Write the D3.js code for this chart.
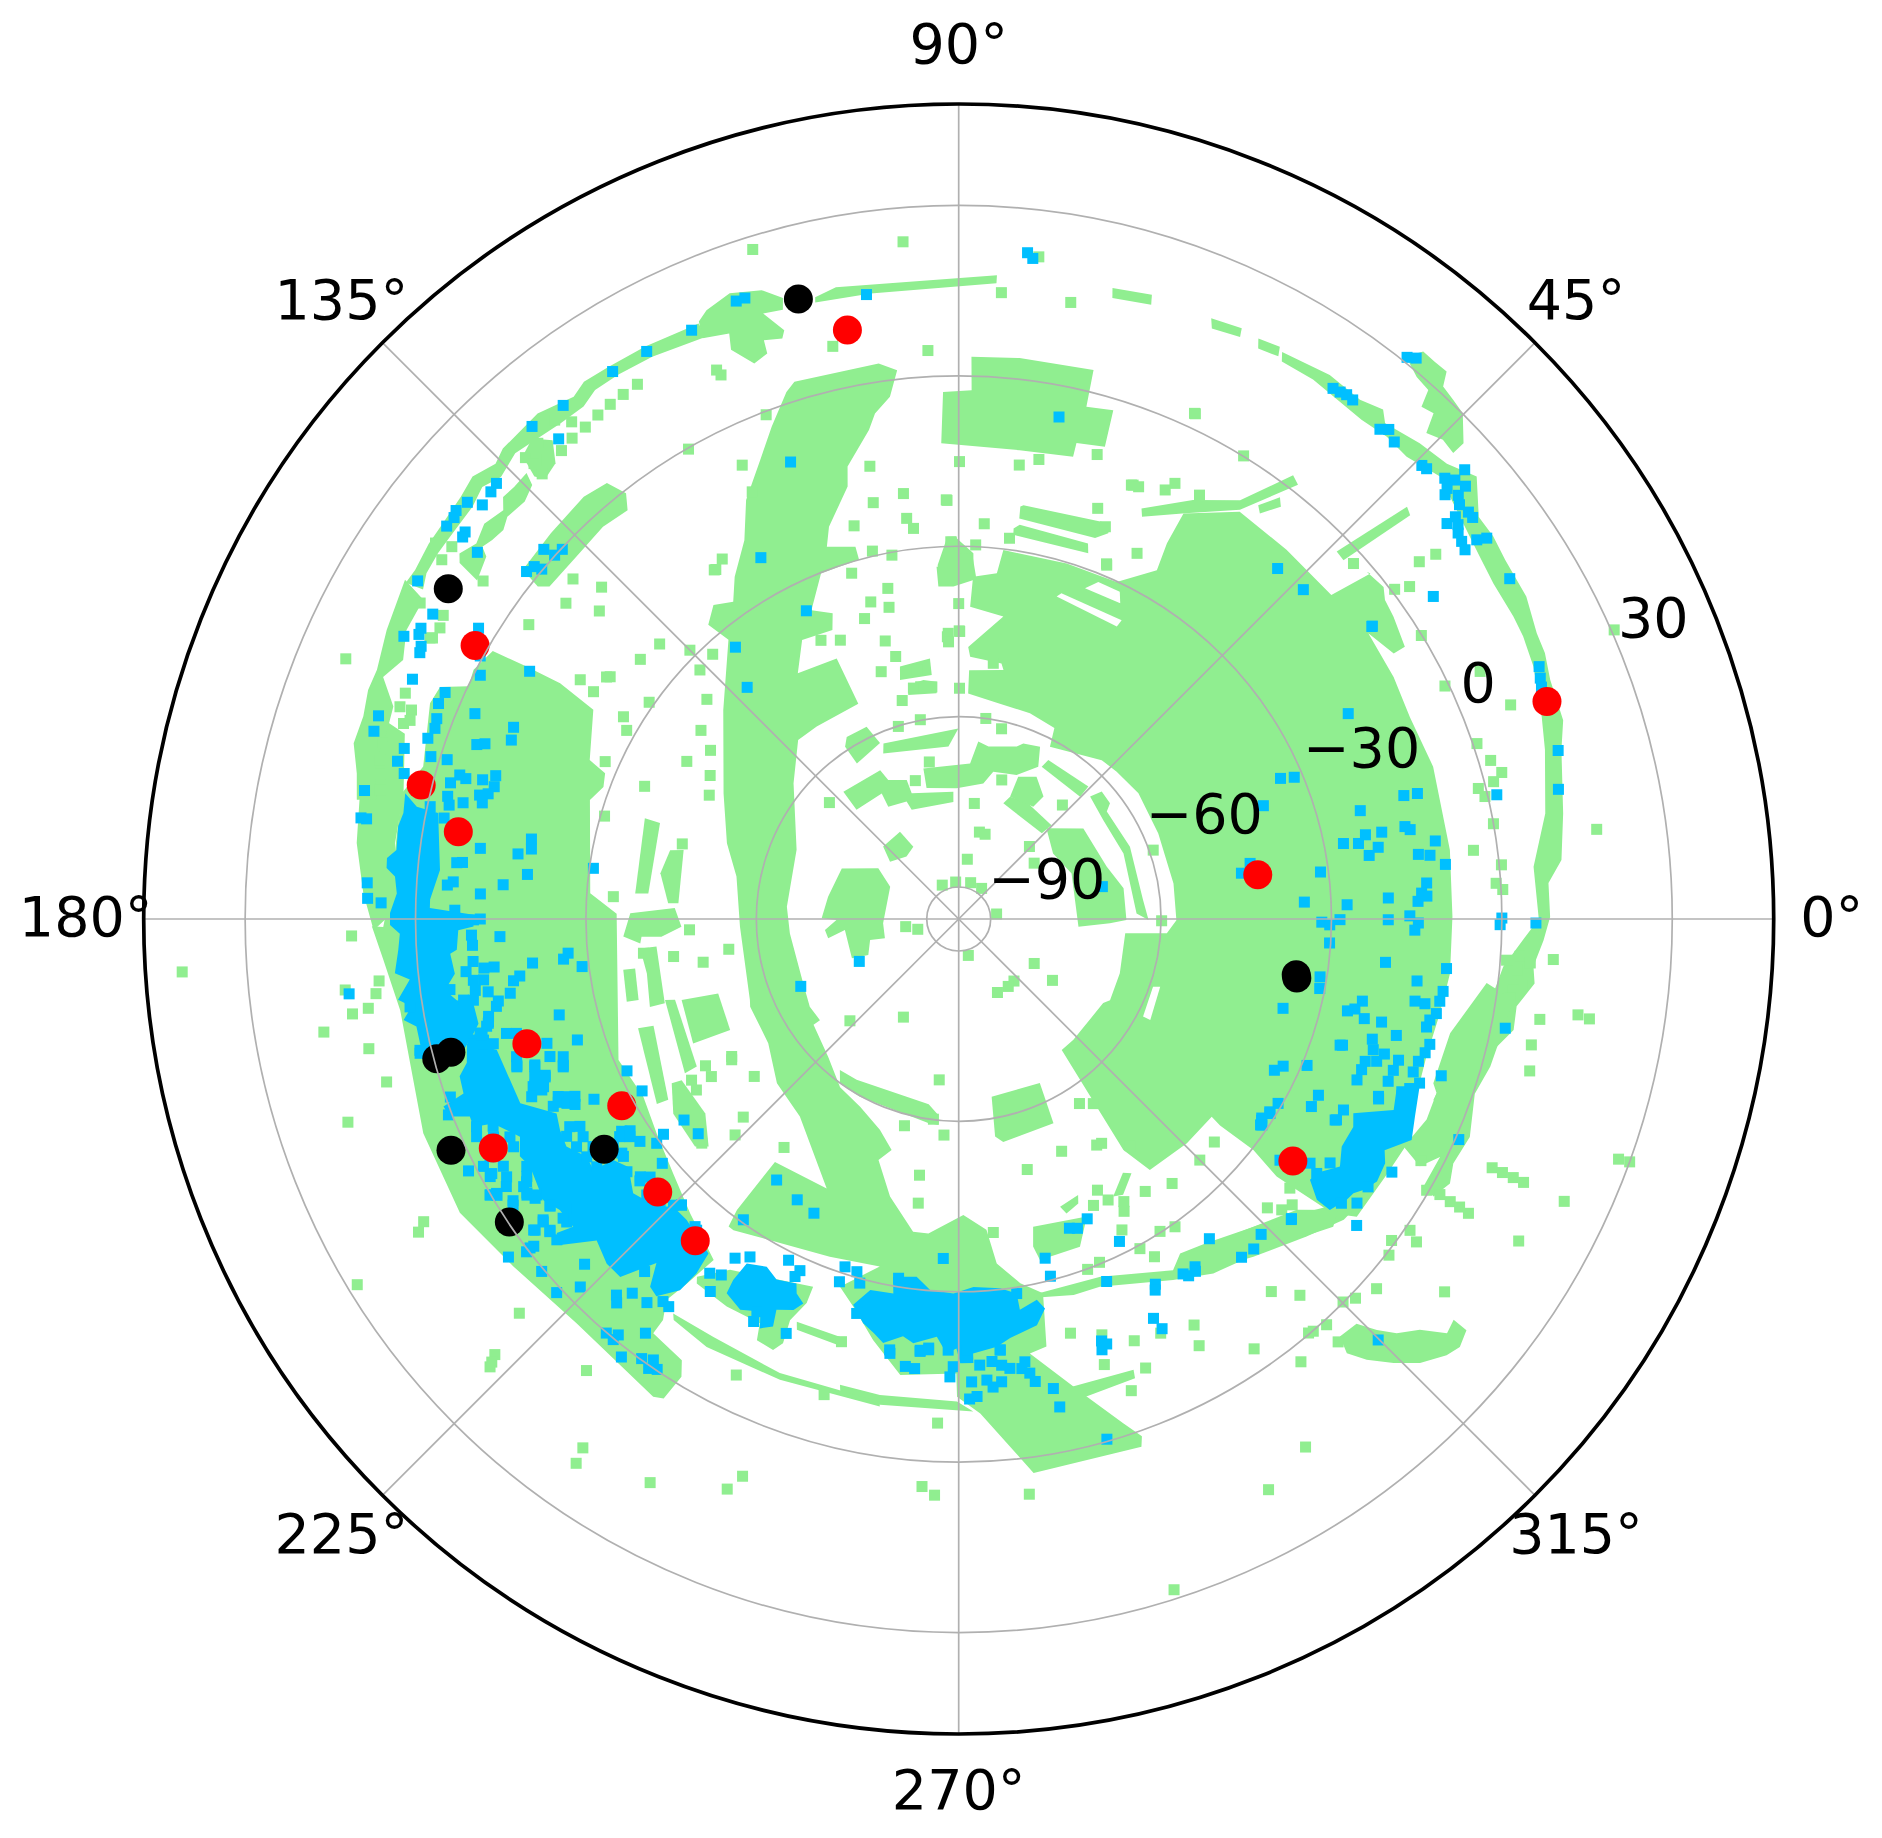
<!DOCTYPE html>
<meta charset="utf-8">
<style>
	body { margin: 0; background: #fff; }
	text { font-family: "DejaVu Sans", sans-serif; font-size: 55.5px; fill: #000; }
	.grid { fill: none; stroke: #b0b0b0; stroke-width: 1.7px; }
	.frame { fill: none; stroke: #000; stroke-width: 3.7px; }
</style>
<head>
	<script src="https://d3js.org/d3.v7.min.js"></script>
</head>
<body>
	<svg width="1882" height="1838"></svg>
</body>
<script>
// all values are [right ascension in degrees, declination in degrees]
var thetaTicks = [0, 45, 90, 135, 180, 225, 270, 315];
var decTicks = [-90, -60, -30, 0, 30];

// survey coverage, too dense to list point by point
var coverage = [
[[152.8,0.4],[150.1,-1],[149.7,-7.5],[149.4,-14.1],[150.2,-21.5],[156.7,-24.9],[157.6,-28.3],[159.6,-28.9],[162.1,-27.4],[176,-30.6],[179.1,-35.4],[202.5,-30.8],[209.4,-31.9],[215.4,-30.4],[221.7,-28.3],[227.6,-25.5],[234.3,-21.7],[233.3,-15.6],[232.5,-11.1],[233.6,-7.9],[233.6,-5],[237.9,-3.9],[238.8,-1.4],[238.4,3.5],[237.4,4.2],[226.6,2.3],[218,3.8],[210.5,6.3],[201.8,5.9],[189.3,4],[184.1,5.9],[180.7,7.7],[180.8,5.7],[177.4,4.6],[167.3,4.9],[164.1,2.4],[157.8,4.9],[155.9,4.4],[154.6,-0.1]],
[[160.8,12],[168.1,12.1],[172.8,11.2],[177.5,9.3],[181.1,7.4],[179.1,3.6],[172.4,4.5],[167.2,4.6],[161.5,7.2]],
[[162.2,-37.6],[162.2,-40.4],[175.3,-40.8],[175.5,-38.5]],
[[166.6,-43.4],[165.9,-45.7],[176.8,-46.2],[176.9,-44.4],[171.3,-42.5]],
[[179,-37.8],[177.8,-45.6],[181.6,-46.8],[183.4,-43.2],[183.2,-39.7],[184.4,-39.4],[183,-36.5]],
[[185.3,-39.3],[185.2,-42.2],[196,-41.8],[195.9,-39.1],[189.9,-39.9]],
[[188.6,-35.9],[188.7,-38],[194.2,-37.5],[194,-35.4]],
[[196.3,-44.8],[197.2,-51.3],[205.9,-50.9],[205.1,-44]],
[[195.4,-42],[195.9,-43.7],[209.4,-42.7],[209.4,-40.3]],
[[198.8,-36],[199.3,-38.7],[211.9,-35.4],[211.5,-33.3]],
[[209.8,-37.4],[210.2,-39.2],[217.5,-39.4],[222.3,-36.1],[220.8,-34.3],[214.3,-34.8]],
[[107,3.3],[98.2,3.2],[96.4,1.6],[97.5,-2.9],[99.4,-5.4],[100.4,-8.1],[103.8,-13.6],[104.4,-17],[108.3,-22.9],[109.5,-26.1],[105.5,-27.6],[105.5,-30],[111.7,-30.1],[115.5,-35.4],[112.4,-37.4],[113.6,-40.1],[119.3,-39.3],[123.2,-43.9],[115.1,-45],[115,-53.8],[126.4,-53.5],[131.9,-53.3],[140.6,-58],[156.9,-64.6],[175.9,-65.3],[184.9,-65.8],[202.5,-66],[210.5,-65.2],[216.1,-65.4],[216.1,-64],[226.6,-62.2],[234.8,-59.4],[242.3,-58.3],[249.5,-56],[253.8,-53.3],[251.6,-50.9],[256.1,-45.3],[261.7,-40],[264.5,-40],[270.9,-43.5],[275.1,-40.7],[276.3,-34.6],[279.6,-30.6],[282.7,-28.1],[281.6,-18.8],[279.3,-18.1],[285,-8.6],[288.1,-2.2],[289.5,1],[289.1,2.7],[277.7,2.8],[272.5,-8.5],[269.8,-11.5],[269.7,-15.6],[262.7,-14.7],[258.5,-20],[254.8,-24.9],[252.1,-27.6],[257.2,-32.9],[249.1,-32],[234.1,-28],[233.2,-28],[232.7,-31.2],[232.9,-42],[243.9,-42.8],[231.2,-51],[222.1,-52.5],[213.1,-55.6],[202.8,-55.8],[201.2,-56.2],[182,-57.1],[169.2,-55.8],[161.9,-52.7],[151.9,-48.7],[138.4,-40.2],[129.5,-31.9],[130.4,-27.6],[128,-25.5],[125.4,-27.1],[123.2,-23.6],[119.5,-19],[116.9,-12.9],[113.4,-7.6],[110.8,-2.9],[108.1,2]],
[[83.1,-30.2],[73.1,-30.2],[64.9,-30.1],[60.4,-25],[61,-20],[61,-14],[55.4,-8.5],[48.4,-8.7],[41,-8.7],[40,-1],[40.4,-1.3],[38,-0.7],[36.8,-1.9],[34.8,-2.4],[31.4,-3.6],[31.4,-5.9],[34.9,-7.7],[29.1,-8],[24.1,-8.6],[17.8,-7.9],[8,-8.3],[0.3,-8.7],[353.7,-8.6],[350.5,-9.1],[347.2,-9.9],[354.1,-8.7],[348.9,-9.3],[343.6,-9.8],[337.6,-9],[333.9,-7.2],[328.9,-7.9],[323.2,-8.1],[321.8,-11.8],[321.3,-19.4],[321,-23.6],[321.9,-29.7],[321.7,-37],[322,-39.1],[315.5,-39.3],[307.3,-40.1],[305.5,-45.7],[308.2,-66.3],[313.5,-66.3],[329.8,-66.2],[331.8,-65.4],[341.4,-65.7],[355.1,-66.2],[356.1,-58.9],[359.7,-57.3],[9.4,-57.3],[23.2,-57.4],[35,-57],[43,-57.6],[48,-58],[62.1,-61.3],[63.4,-58],[70.9,-57.3],[79.6,-57],[87.6,-55.9],[87.6,-51.8],[79.8,-51.1],[80.5,-50],[87.5,-49.4],[88,-47.7],[81.6,-41.8],[87.9,-40.6],[87.6,-35.3],[83.7,-34.4]],
[[46,-73.4],[36,-68.5],[19.5,-68],[10.6,-66.1],[359.7,-66.1],[358.4,-69],[356.3,-74.5],[22,-74.2],[34.8,-75.4]],
[[43,-64],[41.7,-61.9],[37.4,-62.1],[36,-63.4],[22.9,-62.9],[5.9,-63],[359.7,-62.2],[1.8,-64.3],[21.7,-64.4],[34.4,-64.8]],
[[61.4,-65.1],[60.6,-63.5],[45.6,-63],[45.2,-65.3]],
[[68.9,-73.8],[67.2,-72.3],[59.9,-71.8],[45.3,-72.4],[45.9,-74.6]],
[[67.2,-72.3],[67.3,-68.5],[61.3,-67.1],[55.3,-69.4],[56.4,-71.9]],
[[121.6,-58],[115.6,-58.1],[114.1,-61.7],[123.2,-62.9],[123.4,-59.3]],
[[113.2,-62],[90.1,-62.1],[93.4,-65.2],[114.5,-63.6]],
[[103.2,-68.4],[85.8,-68.2],[83.7,-64.2],[80.2,-64.8],[71.4,-63.6],[69.8,-62.7],[64.7,-62.1],[62.4,-65.4],[68.1,-68.3],[76.8,-69],[79.7,-71.4],[90.9,-72.6],[103.8,-71.9]],
[[132.2,-65.4],[117.8,-66],[116.9,-68.2],[110.5,-69.5],[110.5,-72],[92.4,-73.2],[92.6,-75],[113.3,-74.7],[113.9,-73],[122.1,-72.3],[121.5,-69.7],[133.1,-69.3]],
[[136.2,-77.2],[123.9,-77.1],[122.1,-80.6],[129.9,-81.3],[140.2,-79.9]],
[[156.6,-73.2],[147.8,-78.9],[154.8,-82.3],[183.3,-82.3],[194.7,-82.2],[193.3,-79.6],[201.7,-78.5],[200.2,-75.6],[185.5,-75.5],[188.4,-72.4],[184.7,-72],[180.5,-74.1],[179.7,-71.5],[170.3,-72.3]],
[[88.7,3.4],[83.8,3.7],[76.2,3.9],[76,-2.7],[73.1,-2],[72.8,-8.6],[76.1,-9.3],[76.1,-11.8],[82.6,-12.4],[92.1,-11.8],[91.7,-2.8],[88.6,-2.5]],
[[81.5,-22.2],[81.1,-21.9],[69.1,-21.1],[68.8,-22.8],[70.3,-24.4],[81.4,-24.3]],
[[82,-26.2],[81.2,-25.4],[71,-25.7],[70.5,-27.3],[81.9,-27.3]],
[[66,-16.5],[60.8,-11.1],[56.1,-6.8],[53,2.2],[52,1.4],[55.5,-8.2],[60.8,-13.8],[65.5,-17.8]],
[[54.1,-5.7],[52.7,-2.3],[52,-3.5],[53.4,-6.7]],
[[93.6,-33.5],[91.4,-33.6],[90.3,-28.6],[87.7,-31.2],[87.5,-35.9],[90.9,-37.1],[93.5,-37]],
[[103.1,-50],[96.3,-49.5],[96.3,-52.4],[103.8,-52.3]],
[[102.1,-53.5],[98.4,-53.1],[95.3,-53.7],[95.6,-55.7],[102.7,-55.2]],
[[44.2,-2.8],[42.6,11.6],[41.8,11],[43,-3]],
[[103,16.7],[101,17.7],[86.6,17.9],[86.6,16.5],[98,15.6],[103.1,15.8]],
[[112.5,20.4],[110.1,21.7],[107.4,20.4],[105.8,18],[106.1,16],[107.9,16.4],[106.5,12.5],[106.9,11.2],[108.6,11.9],[108.7,9.5],[110.2,8.6],[111.8,12.3],[111.4,15.1],[113.8,16.1],[113.5,19.1]],
[[113.6,18.8],[114.3,18.8],[118.7,19.3],[122.4,19.5],[124.9,19.7],[126.4,18.6],[129.8,20.2],[132.6,19.8],[134.1,19.7],[135.5,18.7],[137.7,20.1],[139.7,19.3],[142.9,18.8],[144.7,18.7],[147.3,18.1],[148.7,18.3],[148.4,15.1],[147,16.1],[144.9,16.4],[143.1,16.4],[139.7,16.6],[137.8,17.6],[136,16.4],[133.6,17.6],[132,17.1],[128.8,16.3],[126.2,16.2],[124.5,17.4],[122,17.4],[118.6,17.1],[113.4,16.1]],
[[131.6,17.5],[130.3,14.9],[131.5,11.5],[133.2,10.7],[133.8,12.3],[133.3,16.3]],
[[134.1,13.7],[134.5,11.5],[136.1,10.4],[138.3,10.8],[139.5,9.8],[140.9,10.2],[142,10.8],[142.5,9.2],[144.9,8],[144.5,12.3],[143.8,13.3],[142.1,12],[140.2,13.1],[138.1,12.1],[137.2,13.7],[135.8,13.5]],
[[148.5,18.7],[153.2,17.2],[156.8,15.8],[158.8,15.9],[161.2,15.1],[163.8,15.3],[166.4,13.4],[168.8,12.4],[168.4,9],[165.1,10.7],[162,10.3],[159.4,10.7],[157.2,14.3],[155,12.3],[152.4,14.1],[149.2,14.1]],
[[141.3,2.7],[136.6,3.2],[131.6,3.8],[128.9,3],[128,-0.5],[129,-3],[132.2,-2.4],[136.6,-2.9],[140.9,-2.8],[141.7,-1.2]],
[[76.3,18.7],[72.8,19.4],[72.6,17.7],[76.1,17]],
[[67.2,19.1],[64.4,19.7],[64.2,18.2],[66.8,17.5]],
[[62.7,19.4],[60.7,19.9],[60.4,18.3],[62.3,17.8]],
[[60.3,19.3],[55.7,20.3],[52.3,19.9],[50.2,21.1],[49.3,19.5],[45.9,21],[43,21.9],[40.5,24.3],[37.7,20.1],[35.6,20.1],[33.3,19.5],[29.6,19.3],[26.3,17.9],[24.4,17.7],[22,16.7],[18.2,16.4],[15.7,14.6],[9.9,12.4],[5.6,11],[3.5,8.4],[0.2,8.5],[357.9,7.4],[355.3,5.9],[353.6,6.4],[351.1,3.8],[348.7,4],[346.2,1.3],[342.6,0.4],[340.1,-1.8],[339.1,-6.2],[344.1,-5.1],[348.6,-2.6],[352.1,-0.6],[355,0.6],[357.9,3.8],[0,6.5],[5.2,6],[10.2,9.3],[16.1,11.8],[19.1,13],[23.7,14.9],[26.6,15.5],[28.6,15.6],[30.7,15.5],[32.1,15.5],[34.8,16.1],[38.7,17.5],[42.6,19.5],[45.9,17.7],[48.4,17.9],[51.1,17.3],[56.7,18],[59.9,17.8]],
[[351.7,3.1],[344.5,1.5],[341.3,0.3],[336.9,2.2],[333.7,1.5],[331.7,2.6],[329.7,1.2],[330.1,-1.2],[333.7,-1.1],[331.8,-3.5],[332.9,-7.6],[336.8,-6],[340,-6.1],[340.9,-7.2],[346.9,-6.8],[353.1,-2]],
[[309.1,-22.8],[319.3,-17.1],[323.6,-9.3],[322,-9.6],[317.6,-12.7],[311.1,-16.7],[306.9,-19.1]],
[[280.2,-28.1],[291.6,-27.9],[301.4,-23.2],[303.5,-25],[307.4,-23.8],[315,-19.8],[323.3,-11.9],[320.6,-10.3],[313.8,-15.7],[305.7,-18.8],[300.7,-21.7],[291,-26.3],[287,-26.4],[280.2,-27.8]],
[[283.6,-39.9],[293.3,-38.6],[290.3,-34.1],[283.4,-33.9],[282.8,-36.5]],
[[289.4,-41.9],[293.4,-42.7],[292.8,-41.3],[290.1,-40.4]],
[[299.1,-39.7],[302.9,-42.4],[304.2,-41.5],[300.8,-39.1]],
[[255.7,-11],[260.6,-10.7],[269.8,-10.7],[271.7,-8.9],[260.8,-9],[256,-9.5]],
[[234.1,-9.9],[239.6,-10.3],[248.5,-9.7],[260.7,-9.5],[260.8,-8.7],[248.8,-8.6],[239.5,-8.2],[234.6,-9]],
[[248.1,-19.2],[254.6,-19.1],[254.9,-17.6],[248.5,-17.9]],
[[283.6,-10.9],[291.2,-10.5],[291,-9],[284.8,-8.6]],
[[233.8,-17.6],[236.9,-21.9],[248.4,-26],[248.4,-22.9],[247.2,-19],[247.5,-14.8],[246.7,-13],[244.4,-13.4],[243.8,-16.3],[239.1,-16.1],[234.3,-16.6]],
[[231.8,-61.8],[237.6,-62.1],[260.8,-62.6],[264.1,-60.9],[264.4,-59.2],[261.5,-59.3],[240.9,-59.8],[234.2,-59.9]],
[[280.5,-63.8],[296.3,-63.4],[294.9,-56],[281.3,-55.6],[279.5,-56.8]],
[[312.4,3.9],[314.5,4.3],[315.5,7.6],[316.6,10.5],[318.3,13.1],[319.7,17.1],[321,16.5],[321,19.4],[319.5,20.4],[318.2,19.6],[316.1,17.1],[314.4,13.8],[312.8,10.1],[311.8,6.9]],
[[51.5,30.9],[50.7,33.5],[49.5,33.4],[48.3,33.5],[47.7,31.1],[46.4,30.6],[45.1,30.1],[43.3,26.5],[43.3,24],[44.7,24.3],[46.1,23.1],[46.8,26.5],[47.9,25.9],[48.4,28.9],[49.8,29.3]],
[[93.4,-33.2],[91.7,-28.3],[90.3,-28.3],[90,-31.3],[87.9,-31.2],[87.1,-35.3],[91.3,-36.8],[93.3,-36.7]]
];

// gaps inside the coverage
var coverageGaps = [
[[73.1,-36.3],[72.5,-35.5],[61.4,-35.7],[61.6,-37.1]],
[[69.1,-33.3],[67.5,-31.4],[63.8,-31.4],[62.9,-33.2]],
[[332.1,-58.9],[340.8,-59.4],[341.4,-58.2],[332.2,-57.5]]
];

var field = [[144.6,7.1],[138.6,-5.1],[137.1,-9.8],[141.2,-6.9],[139.4,-12.3],[145.6,-3.9],[137.4,-24.1],[140.8,-23.3],[132.9,-32],[136.1,-32.4],[145.5,-20.4],[148.1,-19.9],[138.9,-36.8],[145,-29.1],[143.8,-39.4],[145.8,-42.8],[149.9,-40.3],[156,-27.5],[150,-45.1],[153.6,-46.6],[138,-65],[148.9,-26.7],[150.4,-28.4],[135,-28.7],[125,-20.6],[157.1,-35.6],[163.8,-30.7],[176.3,-34.7],[164.8,-45.2],[182.3,-48.2],[187.5,-54.8],[187.5,-45],[189.6,-50],[186.2,-39.8],[211.2,-48.9],[157,21.6],[181.6,11.3],[186.1,7],[187.3,7.8],[188.6,9.5],[188.9,12.4],[192.4,10.7],[186.6,13.1],[147.7,-16.8],[145.2,-20.9],[151.9,9.4],[152,9.8],[150.7,9.1],[149.5,9.7],[149.6,14.3],[159.2,9.6],[159.1,7.5],[157.8,9.6],[160.6,8],[163,10.3],[160.1,7.1],[164.6,10],[165.9,9.4],[162.1,9],[167.4,8.8],[195.9,9.1],[209.5,12.6],[210.1,14.3],[221.9,8.3],[223.2,16.4],[223.7,18.5],[230.5,7.4],[244,-6.3],[254.2,-8.6],[234.6,18.6],[234.9,21.5],[241.3,17.5],[247.9,12.7],[248.8,9.6],[223.1,-69.4],[211.8,-48.6],[217.6,-50.2],[210.1,-44.1],[212.5,-44],[211.1,-40.7],[213.1,-40.5],[222.6,-44.1],[224,-40.9],[232.6,-45],[221.1,-35.6],[211.3,28.3],[240.6,-75.8],[263.1,-67.1],[255.3,-58],[262.8,-60.1],[266.1,-57.5],[261.3,-50],[261.9,-45.1],[285.3,-49.9],[293.9,-50.9],[303.2,-56.8],[306.1,-55.4],[318.9,-35.9],[315,-35.6],[308.9,-35.8],[304.4,-37.5],[276.3,-40.1],[301.4,-49],[302.5,-48.8],[307.1,-45.6],[298.8,-29.4],[302.8,-30.2],[305.1,-29.4],[300.1,-26.9],[290.2,-29.9],[292.3,-30.3],[310,-10],[312.2,-6.2],[300.1,-13],[299.4,-9.4],[304.5,-3.8],[307.7,2.9],[312.2,0.8],[310.2,-0.2],[292.6,-15.2],[285.1,-20.1],[292.6,-10],[288.1,-13.1],[290.1,-7.2],[296,-14.5],[289,-18.2],[267.6,-6.8],[266.3,4.5],[267.6,5.9],[277,6.4],[298.5,18.7],[303.3,15.6],[311.9,4.4],[254.5,-18.4],[320.9,-20.5],[316.9,-21.2],[319.4,-18.3],[318,-19.1],[297.1,-42],[298,-39.6],[295.2,-39.9],[300.3,-38],[299.5,-36.5],[297.7,-33.8],[356.1,9.3],[350.2,8.2],[351.2,14.7],[351,16.8],[347.6,7.6],[345.1,8.4],[340,28],[340.1,30],[335,8],[335,10],[335,12.1],[335,14.1],[332.4,-3.8],[335,22],[330.1,18.1],[318.5,2.6],[316.3,1],[315.1,-0.1],[322.5,12.2],[310.7,0.1],[329.9,-0.4],[330.2,2],[330.1,4.2],[330.1,6.1],[330,8],[325.4,0.9],[324.8,3],[323.4,-0.7],[322,0.5],[21.2,8.6],[25.4,6],[25.6,-0.7],[18.7,0.7],[16.6,2.1],[15.1,3.4],[14.1,-1.3],[14.4,1.6],[13.1,-0.5],[10.1,0],[7.6,-4.2],[5.7,0.4],[3.8,-0.8],[3.1,0.3],[8,17.8],[65,2.6],[58.4,0.1],[68.1,-13.3],[64.3,-11.8],[63.6,-10],[64,-24],[69.5,-21.9],[67.3,-28.1],[42,-2.1],[37.8,7],[37.4,10.1],[36.4,3],[37.1,0.6],[31.5,-0.1],[107.1,27.7],[94.7,24],[113.8,10],[113.6,8.9],[102.4,7.6],[93.1,4.6],[110.9,-0.6],[119.9,-0.2],[115.5,-7.1],[101.1,-14.4],[115.8,-12.1],[97.4,-20.1],[101.6,-20.8],[91.7,-21.8],[104.9,-24],[97.4,-24.5],[96.6,-26.4],[86.3,-25.9],[91.2,-29.2],[87.4,-29.7],[103.2,-29.1],[100.4,-30.5],[107.2,-31.9],[102.1,-36.1],[105.5,-37.7],[102.6,-39.4],[107.4,-40.2],[90,-40.1],[116.3,-40.9],[113,-42.3],[104.8,-45],[92.3,-45.9],[89.8,-45],[103.5,-48.1],[107.4,-50],[99.6,-51.2],[99.3,-54.2],[96.6,-54.5],[89.8,-55],[123.3,-19.8],[124.8,-20.7],[125.6,13.5],[127.2,13.1],[128.8,13],[130.3,12.5],[121,14.2],[122.6,14],[124.1,13.8],[131.9,12.9],[133.2,15.8],[133,14],[133.1,11.7],[127.9,15.3],[129,17.4],[131.5,16.2],[145.2,15.2],[143.7,15.1],[144.3,17.8],[71.3,-19.3],[101.1,-54.2],[104.5,-55.9],[92.1,-45.3],[89.9,-44.9],[92.1,-46.8],[82.3,-50.2],[67.4,-27.9],[107.4,-70.1],[100.6,-67.5],[100.9,-59.9],[107.4,-60.1],[82.3,-60],[77.3,-61.3],[82.3,-75.1],[76.6,-79.9],[72.7,-80],[81.8,-85],[115.9,-89],[94.7,-89.1],[71.8,-88.9],[53.2,-88.9],[7.5,-88.9],[188.2,-86.2],[194.1,-88.2],[284.8,-89],[329.5,-80.2],[326.8,-75.9],[311.7,-81],[306.3,-80.9],[297.8,-81],[19.5,-59.3],[45.7,-77.8],[36.5,-79.1],[359.5,-59.9],[47.7,-68.5],[72.8,-70],[86.1,14.9],[79.7,14.7],[64.9,2.6],[89.9,-15.1],[82.4,-15],[80.1,-13.5],[73.4,-10.3],[91.6,-21.9],[82.4,-28],[68.3,-13.4],[67.4,-13.2],[60.4,-9.8],[83.1,21.8],[183.9,41.4],[190.1,17.9],[198.4,17.7],[223.5,17.7],[287.8,28.4],[23.8,30.5],[356.2,3.4],[355.6,5.3],[353.3,4.2],[352.7,2.8],[351.8,2.4],[354.8,3],[355.7,1.1]];

// the crowded parts of the blue sample
var crowded = [
[[167.2,4.3],[168.3,1.8],[168.5,-2.1],[174.6,-3.9],[177.9,-2.5],[178.8,-2.5],[179.5,-10.2],[180.9,-10.2],[181.3,-7.5],[183.5,-7.1],[183.9,-5.9],[186.2,-6.4],[187.9,-4.3],[189.2,-6.1],[189.9,-8.9],[192.3,-9.1],[193.9,-7],[195.7,-3.8],[194.8,1.8],[191.2,1.7],[190.3,3.7],[189.1,1.9],[188.2,4.1],[186.3,1.6],[185.5,4.1],[183.2,3.2],[181.5,2.8],[180.6,4.5],[179.4,4.5],[177.4,3.4],[175.7,3.9],[174.9,5.5],[173.9,5.6],[173,4.1],[170.6,4.4],[169.2,3.9]],
[[194.2,-6.3],[195.8,-11.1],[202.8,-11.9],[205.8,-17],[207.9,-16.2],[210.1,-15.8],[212.6,-17.9],[214.5,-17.6],[214.9,-21.5],[216.9,-22.9],[220.1,-20.7],[223.6,-22.2],[225.2,-24.3],[227.9,-24.2],[233.2,-22.1],[233.5,-18],[233.1,-13.9],[231.3,-10.5],[230,-11.1],[228.7,-15],[226.6,-8.9],[224.4,-8.9],[221.6,-10.4],[219.3,-5],[218,-5.8],[218.6,-8.8],[216.1,-8.7],[214.1,-7.3],[210,-8.5],[208.4,-7.8],[206.4,-9.4],[203.7,-6.1],[203.2,-2.7],[202,-2.8],[201.2,0.5],[200,0.9],[199.4,-3.2],[197.5,-3.5],[196.3,-5.4]],
[[238,-20.7],[238.4,-24.4],[241.1,-25.7],[243.2,-24.5],[246,-25.4],[246.6,-23.8],[248,-22.6],[247.1,-20.9],[245,-19.7],[245.5,-16.8],[244.1,-15.5],[243.2,-18.2],[240.8,-16.8],[238.2,-18.1]],
[[254.7,-25.2],[256.6,-28.5],[260.1,-28.7],[259.6,-31.6],[263.3,-32.2],[265.6,-30.1],[269.2,-29.7],[272.3,-30.8],[276.4,-30.2],[278.8,-28.9],[278.9,-26],[281.6,-27.2],[282.5,-25.4],[280.9,-22.8],[277,-21.3],[275.1,-20],[271.9,-19.1],[271.9,-17.4],[270.2,-17.4],[269.7,-20],[268.4,-19.1],[267,-22],[263.9,-20.5],[262.4,-21.5],[259.9,-19.8],[258.4,-21.2],[256.7,-22.5]],
[[338.7,-12.9],[340.4,-9.4],[336.6,-8.1],[334,-6.9],[331.5,-10.3],[330.2,-9.1],[327.9,-8.7],[326.2,-9.9],[325.2,-11],[324.1,-11.3],[321.9,-12.6],[321.9,-15.5],[323.4,-18.6],[325,-18],[327,-15.6],[329.3,-17.2],[332.2,-17.1],[333.8,-18.2],[336.3,-12]]
];

// blue points along the edges of the crowded parts
var crowdedEdge = [[168,-0.5],[179,-6.9],[180.1,-10.2],[187.2,-9.5],[187.3,-11.3],[187.9,-5.2],[189.3,-7.3],[189.5,-9],[194,-7.6],[194.3,-9.3],[193.7,2],[189.1,2.2],[190.7,-12.8],[191.7,-11.1],[192.8,-10.4],[193.4,-9],[194.2,-13.5],[194.5,-15.2],[194.4,-7.4],[194.7,-9.1],[195,-10.8],[196.8,-19.9],[194,2.1],[197.3,-14.1],[198.6,-19.7],[199.2,-21.9],[198.5,-13.6],[199.2,-16.6],[200.5,-21.3],[200.4,-16],[200.9,-17.7],[201.5,-15.1],[202,-16.8],[199.3,-0.8],[202.6,-14.2],[203.9,-18.5],[204.4,-19.9],[204.8,-21.2],[204.8,-17],[201,0.6],[203.3,-3.2],[204,-5.9],[208.1,-18],[208.7,-19.6],[204.3,-2.5],[205.1,-5.2],[205.9,-7.8],[209,-16.7],[210.1,-19.2],[212.7,-24.7],[213.5,-26.2],[207.1,-7.6],[210.8,-17.3],[211.9,-19.8],[213.4,-22.8],[206.9,-3.1],[212.6,-17.9],[215.3,-23.3],[207.5,-1.3],[208.5,-4.4],[209.8,-8],[214.4,-18.4],[208.8,-1.5],[209.7,-4],[210.8,-7.1],[219,-23.5],[210.6,-3.1],[211.6,-5.7],[210.5,0.1],[210.9,-0.9],[212.6,-5.4],[213.2,-6.9],[221.5,-22.3],[212.7,-2.4],[215,-7.8],[223.8,-22.8],[225.1,-24.5],[225.9,-25.5],[216.1,-5.1],[217.7,-8.4],[216.2,-2.9],[217.3,-5.2],[229.9,-24],[218.6,-5.1],[231.1,-23],[217.5,-0.5],[228.3,-12.5],[245.4,-26.4],[242.8,-17.9],[243,-16.1],[278.8,-28.9],[255.5,-23.9],[260.9,-18.8],[264.9,-19.4],[266,-19.6],[275.5,-19.4],[326.7,-17.4],[324.6,-18.3],[323.4,-11.7]];

var sample = [[98.4,15.5],[109.8,20],[109,20],[114.4,18.2],[118.8,18.4],[122.3,18.4],[127.6,18.5],[130.9,19.1],[129.8,14.4],[136.7,16.2],[137.6,15.9],[139.7,17.8],[139,15.5],[140.9,18.4],[141.5,17.9],[142.5,18],[141.9,14.8],[142.4,14.6],[142.7,10.9],[138.3,2.2],[137,-0.2],[138,0.1],[140.3,1.5],[141.2,2],[140,0.2],[148,16.7],[149.9,11.4],[151.6,12],[152.2,11.8],[153,14],[153.1,10.5],[153.7,10.2],[156.3,9.4],[156.2,3.2],[148.8,3.2],[151.2,0.5],[153,-1.1],[150,-8.4],[110.2,-9.9],[118.7,-23.1],[116.3,-35.1],[129.4,-33.7],[132.4,-40.4],[157,-3.1],[156.7,-10.3],[158.2,-10.8],[160.1,-5.4],[159.7,-6.7],[162.7,-1.3],[162.9,1.6],[165.3,5.3],[163.9,-4.2],[164.1,-5.4],[165,-3],[163.7,-8.3],[162.8,-10.3],[164.1,-10.6],[165.5,-8.5],[165.1,-9.9],[166.3,-9.3],[166.5,-3.1],[167.4,-3.7],[166.8,-6],[169.4,-19.1],[170.7,-19.4],[171.6,-17.2],[171.6,-10.5],[173.6,-6.7],[173.5,-7.7],[174.1,-19.3],[175.7,-15.2],[177,-11.3],[175.8,-6.4],[176.2,-5.4],[176.5,8.7],[178,8.5],[178.4,6.1],[180,-11.4],[172.1,-30.7],[182.2,-14.8],[181.9,-9.8],[183.1,-9.9],[185,-26.6],[185.8,-25.7],[187.2,-28.8],[185.9,-20.2],[203.1,-65.4],[185.9,-13.4],[185.9,-11.6],[185,-9.8],[186.1,-8.4],[187.4,-17.7],[187.9,-16.5],[189.4,-15.6],[187,12.5],[193.5,-23.3],[197.6,-25.2],[190.1,-13.3],[188.8,-11.8],[188.4,-9.6],[192.3,-10.9],[193.5,-9.3],[160.7,12.6],[162.2,12.5],[167.8,11.4],[170.4,11.1],[170.4,10.1],[168.9,-3.3],[157.5,3.5],[159,2.8],[160,2.5],[161.2,3.1],[164.3,7],[162.9,6.5],[204.6,-31.4],[208.5,-32.2],[206.3,-24],[204.6,-18.1],[205.2,-19.4],[205.8,-20.6],[216.1,-31.3],[216.6,-29.4],[216.2,-35.7],[219.5,-36.2],[219.5,-28],[214.9,-27.2],[212.2,-25.5],[212.8,-26.8],[214.8,-23.4],[217.3,-22.2],[219.4,-23],[219.9,-24.8],[225.9,-25.5],[229.4,-24.3],[235.1,-39.6],[240.1,-38.6],[243.8,-37.9],[234.4,-30.5],[236.6,-24.1],[238.3,-25.7],[243.5,-28.5],[245.7,-27.7],[236.3,-16.8],[236.3,-20.3],[234.9,-19.4],[247.4,-16.6],[232.9,-4.2],[229.6,0.1],[230.7,-1],[230.6,0.2],[232.4,1.7],[234.2,-0.2],[235.3,-1.2],[235.4,0.5],[236.2,-0.2],[227.7,-6.1],[228.3,-5.1],[228.9,-8.2],[230.9,-8.6],[232.3,-10.5],[233.2,-10.4],[224.2,-2.7],[222.9,1],[222.7,-6],[220.2,0.5],[216.9,3.5],[217.6,0.4],[217.6,-1.2],[216.3,-3.1],[217.4,-5],[215.9,-5.3],[208.6,-2],[207.2,1.4],[210.5,0.1],[210.7,-1],[212.3,-2.8],[211.3,-6.6],[212.4,-5.6],[213.4,-6.3],[213.7,-8.5],[215.1,-7.7],[217.1,-8.3],[217.1,-11.3],[200.7,-17.8],[199,-16.7],[201.4,-15.5],[202.3,-16.3],[200.3,-21.4],[198.3,-13.7],[192.5,-10.8],[193.7,-9.2],[251.8,-28.4],[254.8,-29.2],[251.9,-31.2],[253.9,-31],[292.2,-26.7],[284.4,-30.7],[284.3,-34],[267.4,-35.8],[296.5,-32.2],[293.2,-38.2],[289.7,-37.8],[291,-37.3],[308.1,-24.1],[313.8,-18.7],[318,-16.8],[311.8,-17.7],[309.9,-18],[304.2,-21.6],[303.9,-20.9],[302.3,-21.7],[302.8,-20.9],[298.3,-22.6],[297.9,-21.7],[296,-17.4],[296.4,-15.1],[288.7,-17.2],[289.2,-16.4],[288.4,-15.7],[344.6,-36.4],[334.4,-34],[335.6,-32.9],[337.2,-29.1],[333.9,-25.1],[332,-25.3],[330,-30.7],[328.2,-31.2],[326.7,-31.8],[325.8,-31.1],[332,-20.3],[341.7,-24.9],[323.1,-24.9],[325.2,-20.3],[260.5,-31.5],[261,-18.2],[264.9,-19.2],[266,-19.9],[268.6,-19.7],[271.1,-19.7],[275.5,-19.4],[274.3,-17.5],[272.7,-17],[275.5,-16.7],[276.5,-16],[278,-15.7],[278.5,-16.8],[263.2,-16.3],[264.4,-16.1],[269.3,-16.8],[268.9,-15],[278.9,-14.7],[279.4,-13.1],[271.6,-14.1],[273.5,-14.3],[275.3,-13.8],[274.2,-13],[281.4,-11.3],[272.2,-11.5],[271.3,-11.1],[281.7,-7.9],[285.9,-0.4],[35.3,-6.4],[23.6,-33.8],[22.9,-31.5],[20.4,-38.4],[15.5,-14.3],[15.3,-11.9],[15.1,-22.4],[11.7,-15.4],[11.2,-14.6],[11.6,-19.6],[11.7,-22.5],[11.1,-26.6],[10.7,-24],[9.7,-20.7],[8.8,-22.5],[9.3,-10.6],[8,-13.9],[7.7,-11.9],[6.4,-9.4],[7.4,-31.4],[4.4,-13],[3.2,-14],[2.8,-13.1],[2.2,-14.7],[2.8,-19.9],[2.8,-34.7],[2.1,-27.2],[359.5,-31.7],[359.1,-30.3],[359.9,-28.5],[359.9,-20],[0.4,-16.2],[359.5,-14.7],[358.6,-15.3],[0.1,0],[359.4,-0.3],[356.3,-30.2],[359.6,6],[354.2,-20.1],[354.2,-9.3],[350.9,-31.2],[349.1,-30.9],[352.3,-14.2],[351.5,-9.4],[349.8,-14],[349.7,-12.2],[350.3,-9.7],[348.8,-9.9],[347.9,-10.8],[347,-11.1],[348.5,-23.1],[346.7,-25.3],[347.2,-24.1],[346.2,-22.1],[346.3,-19],[345.1,-15.9],[343.8,-19.8],[341.8,-24.5],[342.5,-19.1],[342.4,-17],[348.7,2.5],[345.1,-9.8],[344,-10.2],[342.8,-10.9],[342.2,-14.3],[341.2,-17.9],[340.7,-19.8],[339.5,-19.9],[338,-20],[341.4,-11.2],[340.8,-14.6],[339.3,-14.8],[342,-6.3],[340.4,-9.5],[339.4,-10.8],[338.7,-11.9],[337.1,-15.4],[15.7,14],[12.2,12.4],[13,1.6],[23.5,15.8],[22.5,15.2],[21.7,14.8],[9.2,-45.2],[10.8,-43.4],[27.8,-18.1],[328,-31],[326.4,-31.6],[325.7,-31.3],[331.9,-20.5],[333.6,-20],[336.8,-15.2],[336.2,0.6],[314.9,9],[329.7,-7.3],[322.4,-7.2],[324.5,-9.5],[317.9,-16.7],[326.8,-9.5],[51.4,30.9],[50.8,31.8],[54.8,18.7],[54.1,18.9],[53.5,19.2],[52.8,19.1],[49.3,18.1],[48.7,19.1],[47.6,18.1],[44.4,18.5],[43.9,18.7],[42.2,19.9],[41.6,23.5],[41.5,21],[40.5,21.7],[41.4,19],[41.1,18],[40.3,19.7],[39.6,18.8],[38.6,19.2],[38,19.2],[39,16.9],[39,15],[38.3,16.4],[37.7,15.5],[36.9,15.1],[36.1,14.7],[36.2,17.4],[35.8,19],[31.7,18.4],[47.7,-12.2],[43.7,-11.7],[35.3,-6.5],[34.2,5.4],[84.1,22.3],[83.6,21.4],[78.7,-5.5],[12.7,-69.7],[203.1,-76.6]];

var redPoints = [[100.7,9.9],[150.5,2.2],[166,1.9],[170.1,-6.2],[196.1,-16.5],[209,-27.8],[206.2,-4.3],[222.2,-24.1],[230.7,-22.4],[324.1,-23],[8.4,-42.4],[20.3,14.8]];
var blackPoints = [[104.5,17.1],[147.1,11.4],[350.6,-35.4],[350.1,-35.2],[195,-0.5],[194.7,-3.2],[204.5,2.6],[213,-21.2],[214,-0.2]];

var svg = d3.select("svg"),
	g = svg.append("g").attr("transform", "translate(958.7,919)");

var angle = d3.scaleLinear().domain([0, 360]).range([Math.PI / 2, Math.PI / 2 - 2 * Math.PI]);
var radius = d3.scaleLinear().domain([-95.63, 47.86]).range([0, 815]);

var outline = d3.lineRadial()
	.angle(function(d) { return angle(d[0]); })
	.radius(function(d) { return radius(d[1]); })
	.curve(d3.curveLinearClosed);

function project(d) { return d3.pointRadial(angle(d[0]), radius(d[1])); }

function areas(data, color) {
	g.append("g").selectAll("path").data(data).enter().append("path")
		.attr("d", outline)
		.attr("fill", color);
}
function squares(data, color) {
	g.append("g").selectAll("rect").data(data).enter().append("rect")
		.attr("x", function(d) { return project(d)[0] - 5.5; })
		.attr("y", function(d) { return project(d)[1] - 5.5; })
		.attr("width", 11)
		.attr("height", 11)
		.attr("fill", color);
}
function dots(data, color) {
	g.append("g").selectAll("circle").data(data).enter().append("circle")
		.attr("cx", function(d) { return project(d)[0]; })
		.attr("cy", function(d) { return project(d)[1]; })
		.attr("r", 14.5)
		.attr("fill", color);
}

areas(coverage, "#90ee90");
areas(coverageGaps, "#fff");
squares(field, "#90ee90");
areas(crowded, "#00bfff");
squares(crowdedEdge, "#00bfff");
squares(sample, "#00bfff");
dots(redPoints, "#f00");
dots(blackPoints, "#000");

// the grid lies over the marks
g.selectAll(".ring").data(decTicks).enter().append("circle")
	.attr("class", "grid")
	.attr("r", function(d) { return radius(d); });
g.selectAll(".spoke").data(thetaTicks).enter().append("line")
	.attr("class", "grid")
	.attr("x2", function(d) { return d3.pointRadial(angle(d), 815)[0]; })
	.attr("y2", function(d) { return d3.pointRadial(angle(d), 815)[1]; });
g.append("circle").attr("class", "frame").attr("r", 815);

g.selectAll(".theta").data(thetaTicks).enter().append("text")
	.attr("text-anchor", "middle")
	.attr("x", function(d) { return d3.pointRadial(angle(d), 873)[0]; })
	.attr("y", function(d) { return d3.pointRadial(angle(d), 873)[1] + 17; })
	.text(function(d) { return d + "°"; });

g.selectAll(".dec").data(decTicks).enter().append("text")
	.attr("x", function(d) { return project([22.5, d])[0]; })
	.attr("y", function(d) { return project([22.5, d])[1] - 9; })
	.text(function(d) { return String(d).replace("-", "\u2212"); });
</script>
